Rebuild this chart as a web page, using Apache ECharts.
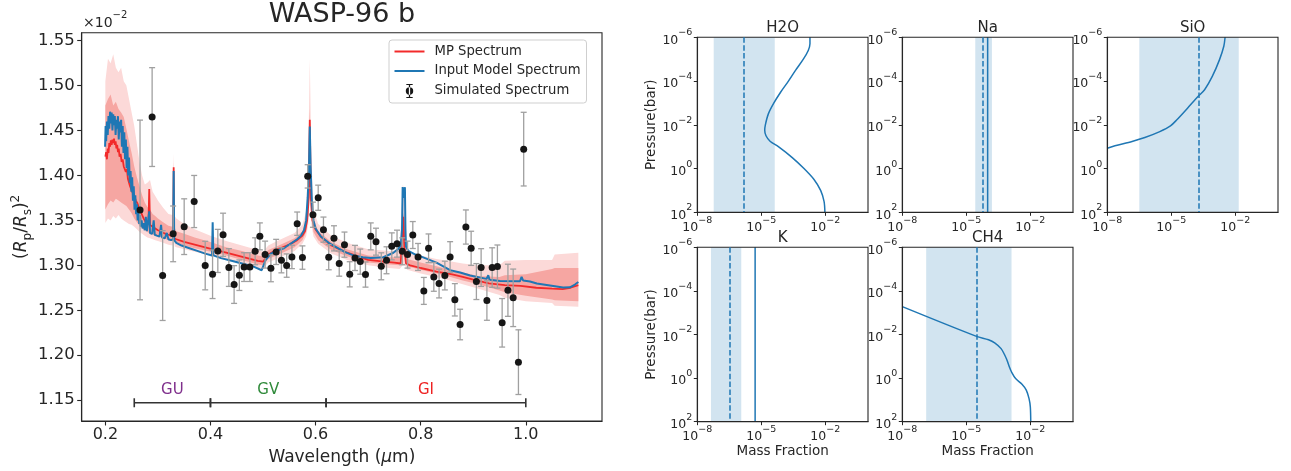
<!DOCTYPE html>
<html><head><meta charset="utf-8">
<script src="https://cdn.jsdelivr.net/npm/echarts@6.0.0/dist/echarts.min.js"></script>
<style>html,body{margin:0;padding:0;background:#fff}#c{width:1291px;height:471px}</style>
</head><body><div id="c"></div>
<script>
// ---------------- main spectrum data ----------------
const xTicks = [0.2, 0.4, 0.6, 0.8, 1.0];
const yTicks = [1.15, 1.20, 1.25, 1.30, 1.35, 1.40, 1.45, 1.50, 1.55];

const simWave = [0.266,0.289,0.309,0.329,0.350,0.369,0.390,0.404,
  0.414,0.424,0.435,0.445,0.455,0.464,0.475,0.485,0.494,0.504,
  0.515,0.525,0.535,0.545,0.555,0.565,0.575,0.585,0.595,0.605,
  0.615,0.625,0.635,0.645,0.655,0.665,0.675,0.685,0.695,0.705,
  0.715,0.725,0.735,0.745,0.755,0.765,0.775,0.785,0.795,0.806,
  0.815,0.825,0.835,0.846,0.856,0.865,0.875,0.886,0.896,0.906,
  0.915,0.926,0.936,0.946,0.955,0.966,0.976,0.986,0.996];
const simDepth = [1.3616,1.465,1.2886,1.335,1.343,1.371,1.2997,1.290,
  1.316,1.334,1.2975,1.2786,1.289,1.298,1.298,1.3156,1.3322,1.3119,
  1.2967,1.3149,1.3056,1.2997,1.3093,1.3463,1.3086,1.399,1.3563,1.3752,
  1.3397,1.309,1.33,1.3019,1.323,1.29,1.3082,1.3041,1.2897,1.3322,
  1.3263,1.2989,1.3056,1.3211,1.3241,1.3156,1.3119,1.3337,1.3093,1.2715,
  1.3189,1.2871,1.2797,1.2886,1.3093,1.2616,1.2341,1.3426,1.3189,1.2819,
  1.2975,1.2608,1.2975,1.2986,1.236,1.2722,1.2638,1.1922,1.4293];
const simErr = [0.100,0.055,0.050,0.031,0.031,0.029,0.027,0.027,
  0.024,0.024,0.021,0.021,0.017,0.016,0.016,0.015,0.015,0.015,
  0.015,0.014,0.014,0.013,0.013,0.013,0.013,0.013,0.014,0.014,
  0.014,0.014,0.014,0.014,0.014,0.014,0.014,0.014,0.014,0.015,
  0.015,0.015,0.015,0.015,0.015,0.015,0.015,0.015,0.015,0.015,
  0.016,0.016,0.016,0.016,0.017,0.018,0.017,0.019,0.019,0.020,
  0.021,0.022,0.022,0.024,0.027,0.029,0.032,0.036,0.041];

const modelSpec = [[0.1995,1.432],[0.2005,1.455],[0.2015,1.438],[0.203,1.460],[0.2045,1.445],[0.206,1.466],[0.2075,1.452],[0.209,1.471],[0.2105,1.458],[0.212,1.470],[0.2135,1.450],[0.215,1.468],[0.2165,1.456],[0.218,1.466],[0.2195,1.445],[0.221,1.462],[0.2225,1.452],[0.224,1.466],[0.2255,1.440],[0.227,1.460],[0.2285,1.448],[0.230,1.462],[0.2315,1.432],[0.233,1.455],[0.2345,1.425],[0.236,1.448],[0.2375,1.418],[0.239,1.440],[0.2405,1.408],[0.242,1.432],[0.2435,1.400],[0.245,1.420],[0.2465,1.392],[0.248,1.405],[0.2495,1.382],[0.251,1.398],[0.2525,1.372],[0.254,1.388],[0.2555,1.362],[0.257,1.378],[0.2585,1.357],[0.260,1.368],[0.2615,1.350],[0.263,1.362],[0.2645,1.346],[0.266,1.356],[0.2675,1.343],[0.269,1.350],[0.271,1.341],[0.273,1.347],[0.275,1.339],[0.277,1.354],[0.279,1.338],[0.282,1.337],[0.2835,1.360],[0.285,1.336],[0.289,1.335],[0.292,1.350],[0.294,1.334],[0.298,1.333],[0.303,1.332],[0.306,1.345],[0.308,1.331],[0.313,1.330],[0.317,1.336],[0.320,1.329],[0.325,1.328],[0.329,1.329],[0.330,1.405],[0.331,1.328],[0.335,1.325],[0.345,1.322],[0.360,1.319],[0.375,1.316],[0.390,1.313],[0.403,1.311],[0.4042,1.348],[0.4055,1.311],[0.420,1.308],[0.440,1.305],[0.460,1.302],[0.480,1.299],[0.4975,1.2945],[0.505,1.306],[0.515,1.313],[0.525,1.316],[0.540,1.319],[0.547,1.322],[0.555,1.325],[0.565,1.329],[0.572,1.333],[0.578,1.339],[0.582,1.350],[0.585,1.375],[0.5875,1.410],[0.589,1.4545],[0.5905,1.41],[0.593,1.370],[0.596,1.350],[0.600,1.341],[0.610,1.332],[0.625,1.325],[0.640,1.320],[0.655,1.315],[0.672,1.311],[0.690,1.309],[0.705,1.308],[0.729,1.309],[0.748,1.314],[0.757,1.318],[0.762,1.322],[0.7645,1.34],[0.7657,1.387],[0.768,1.375],[0.770,1.387],[0.771,1.34],[0.772,1.321],[0.7765,1.316],[0.790,1.312],[0.800,1.310],[0.830,1.303],[0.856,1.2945],[0.875,1.292],[0.894,1.2886],[0.9255,1.2849],[0.9286,1.289],[0.931,1.284],[0.951,1.2826],[0.989,1.2823],[0.992,1.2871],[0.995,1.283],[1.008,1.282],[1.021,1.2797],[1.046,1.2775],[1.071,1.2752],[1.084,1.2755],[1.0935,1.2786],[1.100,1.2815]];

const mpSpec = [[0.200,1.421],[0.2015,1.426],[0.203,1.418],[0.2045,1.430],[0.206,1.425],[0.2075,1.436],[0.209,1.432],[0.2105,1.439],[0.212,1.434],[0.2135,1.440],[0.215,1.436],[0.2165,1.441],[0.218,1.434],[0.2195,1.438],[0.221,1.430],[0.2225,1.434],[0.224,1.426],[0.2255,1.430],[0.227,1.421],[0.229,1.424],[0.231,1.415],[0.233,1.418],[0.235,1.410],[0.237,1.412],[0.239,1.404],[0.241,1.407],[0.243,1.396],[0.245,1.398],[0.247,1.388],[0.249,1.390],[0.251,1.382],[0.253,1.384],[0.255,1.377],[0.258,1.372],[0.261,1.369],[0.264,1.364],[0.267,1.360],[0.270,1.356],[0.273,1.352],[0.276,1.349],[0.279,1.347],[0.282,1.346],[0.2835,1.385],[0.285,1.345],[0.290,1.343],[0.295,1.341],[0.300,1.339],[0.305,1.338],[0.310,1.336],[0.315,1.335],[0.320,1.334],[0.325,1.333],[0.329,1.333],[0.330,1.409],[0.331,1.330],[0.335,1.329],[0.350,1.326],[0.370,1.323],[0.390,1.320],[0.410,1.317],[0.430,1.314],[0.450,1.311],[0.470,1.308],[0.490,1.305],[0.500,1.304],[0.505,1.308],[0.510,1.312],[0.525,1.317],[0.550,1.323],[0.565,1.328],[0.575,1.333],[0.580,1.338],[0.584,1.350],[0.587,1.375],[0.589,1.462],[0.591,1.375],[0.594,1.350],[0.600,1.340],[0.610,1.332],[0.630,1.322],[0.660,1.314],[0.700,1.306],[0.730,1.304],[0.750,1.303],[0.762,1.302],[0.765,1.302],[0.7669,1.354],[0.769,1.320],[0.772,1.302],[0.780,1.300],[0.800,1.297],[0.830,1.293],[0.860,1.290],[0.880,1.287],[0.900,1.284],[0.930,1.280],[0.960,1.278],[0.990,1.277],[1.020,1.275],[1.050,1.274],[1.070,1.2735],[1.085,1.275],[1.100,1.278]];

const bandWave = [0.200,0.205,0.210,0.215,0.220,0.225,0.230,0.235,0.240,0.245,0.250,0.255,0.260,0.265,0.270,0.275,0.280,0.285,0.290,0.295,0.300,0.310,0.320,0.328,0.330,0.332,0.335,0.350,0.370,0.400,0.430,0.460,0.490,0.500,0.510,0.530,0.560,0.575,0.582,0.586,0.589,0.592,0.596,0.605,0.630,0.660,0.700,0.740,0.760,0.766,0.770,0.774,0.800,0.830,0.850,0.880,0.910,0.950,0.960,1.000,1.050,1.055,1.100];
const outerLo = [1.347,1.352,1.350,1.355,1.352,1.356,1.352,1.350,1.348,1.346,1.345,1.343,1.340,1.337,1.335,1.333,1.331,1.330,1.329,1.328,1.327,1.325,1.323,1.322,1.330,1.321,1.320,1.318,1.315,1.311,1.307,1.302,1.297,1.296,1.303,1.308,1.316,1.324,1.332,1.345,1.380,1.345,1.332,1.324,1.313,1.306,1.300,1.297,1.296,1.300,1.300,1.295,1.291,1.287,1.284,1.279,1.274,1.267,1.264,1.260,1.258,1.255,1.254];
const innerLo = [1.362,1.368,1.372,1.370,1.374,1.372,1.370,1.368,1.366,1.362,1.358,1.352,1.348,1.344,1.341,1.339,1.337,1.335,1.334,1.333,1.332,1.330,1.328,1.327,1.340,1.326,1.325,1.322,1.319,1.315,1.311,1.306,1.301,1.300,1.307,1.312,1.320,1.328,1.337,1.355,1.420,1.355,1.337,1.328,1.317,1.310,1.303,1.301,1.300,1.310,1.310,1.299,1.295,1.291,1.288,1.283,1.279,1.272,1.270,1.266,1.262,1.261,1.260];
const innerHi = [1.478,1.485,1.490,1.478,1.482,1.474,1.470,1.465,1.452,1.438,1.425,1.410,1.398,1.388,1.378,1.370,1.365,1.362,1.357,1.355,1.352,1.348,1.344,1.343,1.415,1.342,1.338,1.335,1.331,1.326,1.320,1.316,1.311,1.310,1.317,1.322,1.330,1.338,1.350,1.390,1.475,1.390,1.352,1.338,1.326,1.318,1.311,1.309,1.309,1.360,1.350,1.307,1.303,1.299,1.296,1.292,1.288,1.287,1.289,1.290,1.296,1.297,1.297];
const outerHi = [1.505,1.530,1.525,1.535,1.520,1.515,1.520,1.505,1.500,1.485,1.470,1.455,1.435,1.415,1.400,1.390,1.392,1.395,1.382,1.377,1.372,1.364,1.357,1.356,1.425,1.355,1.352,1.346,1.340,1.333,1.327,1.322,1.317,1.315,1.322,1.328,1.336,1.345,1.360,1.420,1.530,1.420,1.362,1.346,1.333,1.325,1.318,1.316,1.317,1.390,1.380,1.315,1.311,1.307,1.305,1.302,1.300,1.300,1.305,1.306,1.306,1.312,1.314];

const filterEdges = [0.255, 0.40, 0.62, 1.0];
const filterNames = ['GU', 'GV', 'GI'];
const filterColors = ['#7f2f8c', '#2f8a3a', '#ee2222'];
const filterLevel = 1.147;

// ---------------- abundance panels (log10 values) ----------------
const speciesNames = ['H2O', 'Na', 'SiO', 'K', 'CH4'];
const medianLogX = [-5.80, -4.24, -3.70, -6.49, -4.52];
const lowLogX    = [-7.23, -4.58, -6.50, -7.36, -6.88];
const highLogX   = [-4.37, -3.80, -1.84, -5.94, -2.88];
const h2oLogX = [-2.72,-2.72,-2.80,-3.03,-3.39,-3.73,-4.09,-4.41,-4.67,-4.81,-4.84,-4.78,-4.59,-4.20,-3.55,-3.00,-2.53,-2.22,-2.06,-2.02];
const h2oLogP = [-6.0,-5.7,-5.4,-5.0,-4.5,-4.0,-3.5,-3.0,-2.5,-2.0,-1.75,-1.5,-1.25,-1.0,-0.5,0.0,0.5,1.0,1.5,2.0];
const naLogX = [-4.0, -4.0];
const naLogP = [-6.0, 2.0];
const sioLogX = [-2.48,-2.54,-2.74,-3.08,-3.44,-3.74,-4.24,-4.74,-5.04,-5.54,-6.24,-6.84,-7.64,-8.0];
const sioLogP = [-6.0,-5.59,-4.98,-4.21,-3.60,-3.30,-2.76,-2.23,-1.95,-1.69,-1.42,-1.24,-1.04,-0.93];
const kLogX = [-5.29, -5.29];
const kLogP = [-6.0, 2.0];
const ch4LogX = [-8.0,-4.52,-3.96,-3.67,-3.37,-3.12,-2.98,-2.88,-2.69,-2.39,-2.19,-2.06,-2.0,-1.98];
const ch4LogP = [-3.28,-1.915,-1.76,-1.62,-1.35,-0.89,-0.51,-0.28,0.02,0.28,0.55,0.94,1.32,2.0];
const panelXTicks = [-8, -5, -2];
const profilesX = [h2oLogX, naLogX, sioLogX, kLogX, ch4LogX];
const profilesP = [h2oLogP, naLogP, sioLogP, kLogP, ch4LogP];

// ---------------- build chart ----------------
const FONT = 'DejaVu Sans';
const INK = '#262626';
const C0 = '#1f77b4';
const RED = '#f22a2a';
const chart = echarts.init(document.getElementById('c'), null, {renderer: 'canvas'});

function pow10Label(v) {
  const e = Math.round(v);
  return '{b|10}{e|' + (e < 0 ? '\u2212' + (-e) : String(e)) + '}';
}
const powRich = {
  b: {fontSize: 12.5, fontFamily: FONT, color: INK, lineHeight: 19, verticalAlign: 'bottom'},
  e: {fontSize: 9.5, fontFamily: FONT, color: INK, lineHeight: 11, verticalAlign: 'top'}
};

const panelPos = [
  {left: 697.3, top: 37.3, height: 175},
  {left: 902.3, top: 37.3, height: 175},
  {left: 1107.3, top: 37.3, height: 175},
  {left: 697.3, top: 247.3, height: 174.4},
  {left: 902.3, top: 247.3, height: 174.4}
];

const grids = [{left: 81.7, top: 32.7, width: 520.3, height: 389, show: true, borderColor: INK, borderWidth: 1.1, backgroundColor: 'transparent', z: 5}];
const xAxes = [{
  type: 'value', gridIndex: 0, min: 0.155, max: 1.145, z: 5,
  axisLine: {show: true, onZero: false, lineStyle: {color: INK, width: 1.1}},
  axisTick: {show: true, customValues: xTicks, length: 4.5, lineStyle: {color: INK, width: 1.1}},
  axisLabel: {customValues: xTicks, formatter: v => v.toFixed(1), fontSize: 16, fontFamily: FONT, color: INK, margin: 6},
  splitLine: {show: false},
  name: '{n|Wavelength (}{i|\u03bc}{n|m)}', nameLocation: 'middle', nameGap: 28,
  nameTextStyle: {rich: {n: {fontSize: 17, fontFamily: FONT, color: INK}, i: {fontSize: 17, fontFamily: FONT, fontStyle: 'italic', color: INK}}}
}];
const yAxes = [{
  type: 'value', gridIndex: 0, min: 1.1267, max: 1.5589, z: 5,
  axisLine: {show: true, onZero: false, lineStyle: {color: INK, width: 1.1}},
  axisTick: {show: true, customValues: yTicks, length: 4.5, lineStyle: {color: INK, width: 1.1}},
  axisLabel: {customValues: yTicks, formatter: v => v.toFixed(2), fontSize: 16.5, fontFamily: FONT, color: INK, margin: 7},
  splitLine: {show: false},
  name: '{n|(}{i|R}{s|p}{n|/}{i|R}{s|s}{n|)}{u|2}', nameLocation: 'middle', nameGap: 47,
  nameTextStyle: {rich: {
    n: {fontSize: 17, fontFamily: FONT, color: INK, lineHeight: 24, verticalAlign: 'middle'},
    i: {fontSize: 17, fontFamily: FONT, fontStyle: 'italic', color: INK, lineHeight: 24, verticalAlign: 'middle'},
    s: {fontSize: 12, fontFamily: FONT, color: INK, lineHeight: 12, verticalAlign: 'bottom'},
    u: {fontSize: 12, fontFamily: FONT, color: INK, lineHeight: 12, verticalAlign: 'top'}
  }}
}];

const titles = [
  {text: 'WASP-96 b', left: 342, top: 1, textAlign: 'center', padding: 0, textStyle: {fontSize: 27, fontWeight: 'normal', fontFamily: FONT, color: INK}},
  {text: '{b|\u00d710}{e|\u22122}', left: 83, top: 10, padding: 0, textStyle: {fontWeight: 'normal', rich: {
    b: {fontSize: 14, fontWeight: 'normal', fontFamily: FONT, color: INK, lineHeight: 20, verticalAlign: 'bottom'},
    e: {fontSize: 10, fontWeight: 'normal', fontFamily: FONT, color: INK, lineHeight: 11, verticalAlign: 'top'}}}}
];

const series = [];

function bandRender(lo, hi, color) {
  return function (params, api) {
    const pts = [];
    for (let i = 0; i < bandWave.length; i++) pts.push(api.coord([bandWave[i], hi[i]]));
    for (let i = bandWave.length - 1; i >= 0; i--) pts.push(api.coord([bandWave[i], lo[i]]));
    return {type: 'polygon', shape: {points: pts}, style: {fill: color}};
  };
}
series.push({type: 'custom', name: 'band2', xAxisIndex: 0, yAxisIndex: 0, silent: true, clip: true, z: 1,
  data: [[bandWave[0], outerLo[0]]], renderItem: bandRender(outerLo, outerHi, '#fcd9d8')});
series.push({type: 'custom', name: 'band1', xAxisIndex: 0, yAxisIndex: 0, silent: true, clip: true, z: 1,
  data: [[bandWave[0], innerLo[0]]], renderItem: bandRender(innerLo, innerHi, '#f6a6a2')});
series.push({type: 'line', name: 'MP Spectrum', xAxisIndex: 0, yAxisIndex: 0, data: mpSpec, symbol: 'none', showSymbol: false,
  lineStyle: {color: RED, width: 1.8}, itemStyle: {color: RED}, z: 2, clip: true});
series.push({type: 'line', name: 'Input Model Spectrum', xAxisIndex: 0, yAxisIndex: 0, data: modelSpec, symbol: 'none', showSymbol: false,
  lineStyle: {color: C0, width: 2}, itemStyle: {color: C0}, z: 3, clip: true});
series.push({type: 'custom', name: 'errbars', xAxisIndex: 0, yAxisIndex: 0, silent: true, z: 4,
  data: simWave.map((x, i) => [x, simDepth[i], simErr[i]]),
  encode: {x: 0, y: 1},
  renderItem: function (params, api) {
    const x = api.value(0), y = api.value(1), e = api.value(2);
    const t = api.coord([x, y + e]), b = api.coord([x, y - e]);
    const st = {stroke: '#a0a0a0', lineWidth: 1.3};
    return {type: 'group', children: [
      {type: 'line', shape: {x1: t[0], y1: t[1], x2: b[0], y2: b[1]}, style: st},
      {type: 'line', shape: {x1: t[0] - 3, y1: t[1], x2: t[0] + 3, y2: t[1]}, style: st},
      {type: 'line', shape: {x1: b[0] - 3, y1: b[1], x2: b[0] + 3, y2: b[1]}, style: st}
    ]};
  }});
series.push({type: 'scatter', name: 'Simulated Spectrum', xAxisIndex: 0, yAxisIndex: 0, z: 5,
  data: simWave.map((x, i) => [x, simDepth[i]]), symbol: 'circle', symbolSize: 7, itemStyle: {color: '#161616', opacity: 1}});
series.push({type: 'custom', name: 'filters', xAxisIndex: 0, yAxisIndex: 0, silent: true, z: 4,
  data: filterNames.map((n, i) => [filterEdges[i], filterEdges[i + 1], filterLevel]),
  encode: {x: [0, 1], y: 2},
  renderItem: function (params, api) {
    const a = api.coord([api.value(0), api.value(2)]);
    const b = api.coord([api.value(1), api.value(2)]);
    const i = params.dataIndex;
    const st = {stroke: '#333', lineWidth: 1.6};
    return {type: 'group', children: [
      {type: 'line', shape: {x1: a[0], y1: a[1], x2: b[0], y2: b[1]}, style: st},
      {type: 'line', shape: {x1: a[0], y1: a[1] - 4.5, x2: a[0], y2: a[1] + 4.5}, style: st},
      {type: 'line', shape: {x1: b[0], y1: b[1] - 4.5, x2: b[0], y2: b[1] + 4.5}, style: st},
      {type: 'text', x: (a[0] + b[0]) / 2, y: a[1] - 5, style: {text: filterNames[i], fill: filterColors[i],
        font: '15px "DejaVu Sans"', align: 'center', verticalAlign: 'bottom'}}
    ]};
  }});

// panels
speciesNames.forEach((name, k) => {
  const gi = k + 1;
  const p = panelPos[k];
  grids.push({left: p.left, top: p.top, width: 170.7, height: p.height, show: true, borderColor: INK, borderWidth: 1.1, backgroundColor: 'transparent', z: 5});
  const bottomRow = k >= 3;
  const leftCol = (k === 0 || k === 3);
  xAxes.push({
    type: 'value', gridIndex: gi, min: -8, max: 0, z: 5,
    axisLine: {show: true, onZero: false, lineStyle: {color: INK, width: 1.1}},
    axisTick: {show: true, customValues: panelXTicks, length: 3.5, lineStyle: {color: INK, width: 1}},
    axisLabel: {customValues: panelXTicks, formatter: pow10Label, rich: powRich, margin: 3},
    splitLine: {show: false},
    name: bottomRow ? 'Mass Fraction' : '', nameLocation: 'middle', nameGap: 21,
    nameTextStyle: {fontSize: 13.5, fontFamily: FONT, color: INK}
  });
  yAxes.push({
    type: 'value', gridIndex: gi, min: -6, max: 2, interval: 2, inverse: true, z: 5,
    axisLine: {show: true, onZero: false, lineStyle: {color: INK, width: 1.1}},
    axisTick: {show: true, length: 3.5, lineStyle: {color: INK, width: 1}},
    axisLabel: {formatter: pow10Label, rich: powRich, margin: 5},
    splitLine: {show: false},
    name: leftCol ? 'Pressure(bar)' : '', nameLocation: 'middle', nameGap: 38,
    nameTextStyle: {fontSize: 13.5, fontFamily: FONT, color: INK}
  });
  titles.push({text: name, left: p.left + 85.35, top: p.top - 17, textAlign: 'center', padding: 0,
    textStyle: {fontSize: 15, fontWeight: 'normal', fontFamily: FONT, color: INK}});
  series.push({type: 'line', name: name + '-ci', xAxisIndex: gi, yAxisIndex: gi, data: [], symbol: 'none', silent: true, z: 1,
    markArea: {silent: true, itemStyle: {color: 'rgba(31,119,180,0.2)'}, data: [[{xAxis: lowLogX[k]}, {xAxis: highLogX[k]}]]},
    markLine: {silent: true, symbol: 'none', label: {show: false}, animation: false,
      lineStyle: {color: C0, width: 1.5, type: [5.5, 2.4]}, data: [{xAxis: medianLogX[k]}]}
  });
  series.push({type: 'line', name: name + '-profile', xAxisIndex: gi, yAxisIndex: gi, symbol: 'none', showSymbol: false, smooth: 0.3, clip: true, z: 3,
    data: profilesX[k].map((x, i) => [x, profilesP[k][i]]), lineStyle: {color: C0, width: 1.5}});
});

chart.setOption({
  animation: false,
  backgroundColor: '#ffffff',
  textStyle: {fontFamily: FONT},
  title: titles,
  legend: {
    data: [
      {name: 'MP Spectrum', icon: 'path://M0,0h30v2h-30z', itemStyle: {color: RED}},
      {name: 'Input Model Spectrum', icon: 'path://M0,0h30v2h-30z', itemStyle: {color: C0}},
      {name: 'Simulated Spectrum', icon: 'path://M14.4,1h1.2v12h-1.2z M12,0.4h6v1h-6z M12,12.6h6v1h-6z M15,3.5a3.5,3.5 0 1,0 0.001,0z', itemStyle: {color: '#161616'}}],
    orient: 'vertical', left: 389, top: 40, itemGap: 6.5, itemWidth: 30, itemHeight: 14,
    padding: [5, 6, 5, 5.5], borderColor: '#cfcfcf', borderWidth: 1, borderRadius: 3, backgroundColor: 'rgba(255,255,255,0.85)',
    textStyle: {fontSize: 13.2, fontFamily: FONT, color: INK, padding: [0, 0, 0, 5]}, selectedMode: false
  },
  grid: grids, xAxis: xAxes, yAxis: yAxes, series: series
});
</script></body></html>
